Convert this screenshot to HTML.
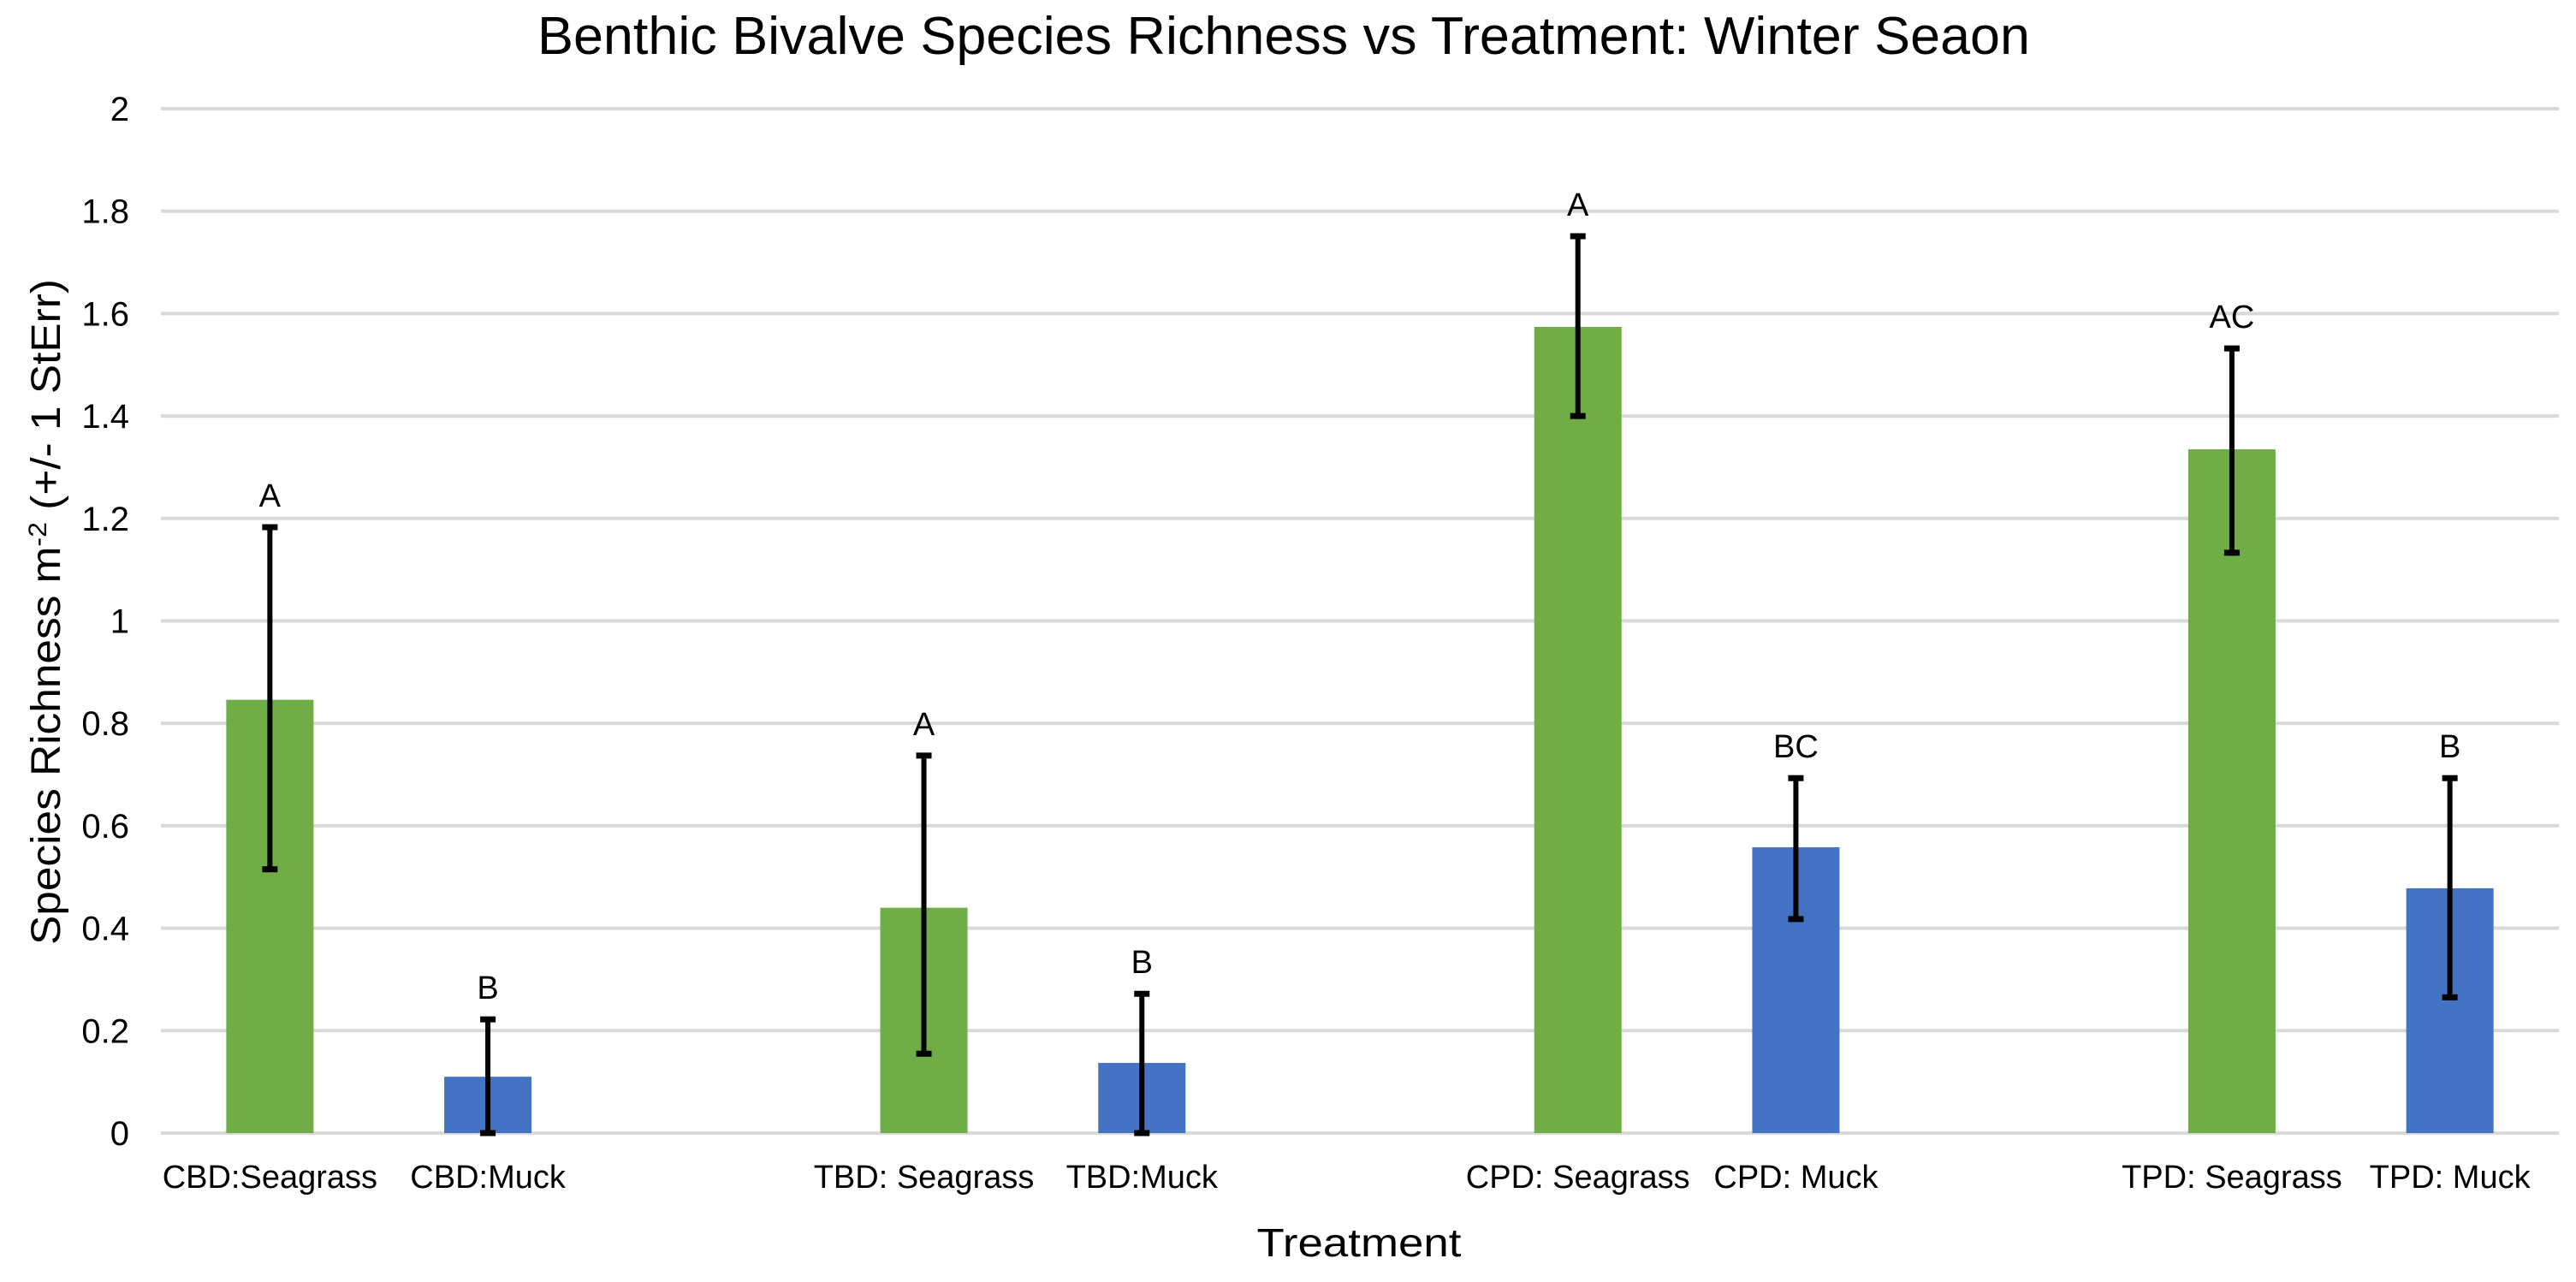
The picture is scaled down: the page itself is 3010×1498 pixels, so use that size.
<!DOCTYPE html>
<html><head><meta charset="utf-8"><style>
html,body{margin:0;padding:0;background:#fff;}
svg{display:block;}
text{font-family:"Liberation Sans Narrow","Liberation Sans",sans-serif;fill:#000;}
</style></head><body>
<svg id="chart" width="3010" height="1498" viewBox="0 0 3010 1498" xmlns="http://www.w3.org/2000/svg">
<rect width="3010" height="1498" fill="#fff"/>
<text x="1500" y="63" text-anchor="middle" font-size="62" textLength="1744" lengthAdjust="spacingAndGlyphs">Benthic Bivalve Species Richness vs Treatment: Winter Seaon</text>
<g id="grid"></g>
<g id="yticks"></g>
<g id="bars"></g>
<g id="xlabels"></g>
<text x="1588" y="1468" text-anchor="middle" font-size="46" textLength="239" lengthAdjust="spacingAndGlyphs">Treatment</text>
<text transform="translate(70,715) rotate(-90)" text-anchor="middle" font-size="48" textLength="778" lengthAdjust="spacingAndGlyphs">Species Richness m<tspan baseline-shift="super" font-size="30">-2</tspan> (+/- 1 StErr)</text>
</svg>
<script>
const categories = ["CBD:Seagrass","CBD:Muck","","TBD: Seagrass","TBD:Muck","","CPD: Seagrass","CPD: Muck","","TPD: Seagrass","TPD: Muck"];
const values = [0.846,0.11,null,0.44,0.137,null,1.574,0.558,null,1.335,0.478];
const errLow = [0.515,0,null,0.155,0,null,1.40,0.418,null,1.133,0.265];
const errHigh = [1.183,0.222,null,0.737,0.272,null,1.751,0.693,null,1.532,0.693];
const letters = ["A","B","","A","B","","A","BC","","AC","B"];
const habitat = ["seagrass","muck","","seagrass","muck","","seagrass","muck","","seagrass","muck"];
const yTicks = [0,0.2,0.4,0.6,0.8,1,1.2,1.4,1.6,1.8,2];
const yTickLabels = ["0","0.2","0.4","0.6","0.8","1","1.2","1.4","1.6","1.8","2"];

const NS="http://www.w3.org/2000/svg";
const X0=188, X1=2990, Y0=1324, Y1=127, YMAX=2;
const slot=(X1-X0)/categories.length;
const xC=i=>X0+slot*(i+0.5);
const yS=v=>Y0-(v/YMAX)*(Y0-Y1);
function mk(tag,attrs,parent){const e=document.createElementNS(NS,tag);for(const k in attrs)e.setAttribute(k,attrs[k]);parent.appendChild(e);return e;}
const grid=document.getElementById('grid'), yt=document.getElementById('yticks'), bars=document.getElementById('bars'), xl=document.getElementById('xlabels');
yTicks.forEach((t,i)=>{
  const l=mk('line',{x1:X0,x2:X1,y1:yS(t),y2:yS(t),stroke:'#d9d9d9','stroke-width':4},grid);
  
  
  const tx=mk('text',{x:151,y:yS(t)+14,'text-anchor':'end','font-size':40},yt);
  tx.textContent=yTickLabels[i];
  
  
});
const BW=102;
categories.forEach((c,i)=>{
  if(values[i]!==null){
    const cx=xC(i);
    const r=mk('rect',{x:cx-BW/2,y:yS(values[i]),width:BW,height:Y0-yS(values[i]),fill:habitat[i]==='seagrass'?'#70ad47':'#4472c4'},bars);
    
    
    const g=mk('g',{},bars);
    
    
    mk('line',{x1:cx,x2:cx,y1:yS(errLow[i]),y2:yS(errHigh[i]),stroke:'#000','stroke-width':6},g);
    mk('line',{x1:cx-9,x2:cx+9,y1:yS(errHigh[i]),y2:yS(errHigh[i]),stroke:'#000','stroke-width':7},g);
    mk('line',{x1:cx-9,x2:cx+9,y1:yS(errLow[i]),y2:yS(errLow[i]),stroke:'#000','stroke-width':7},g);
    const lt=mk('text',{x:cx,y:yS(errHigh[i])-24,'text-anchor':'middle','font-size':38},bars);
    lt.textContent=letters[i];
    
    
  }
  if(c){
    const t=mk('text',{x:xC(i),y:1388,'text-anchor':'middle','font-size':38},xl);
    t.textContent=c;
    
    
  }
});
</script>
</body></html>
